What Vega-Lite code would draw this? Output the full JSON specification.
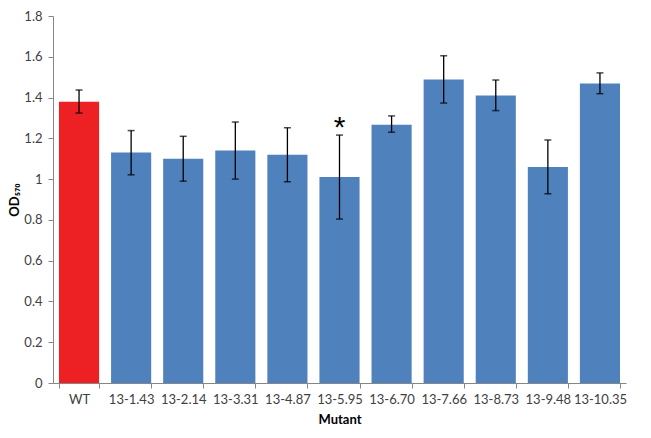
{
  "$schema": "https://vega.github.io/schema/vega-lite/v6.json",
  "autosize": {"type": "none"},
  "width": 573,
  "height": 367,
  "padding": {"left": 53, "top": 16, "right": 25, "bottom": 55},
  "background": "white",
  "config": {"view": {"stroke": null}, "font": "Lato"},
  "data": {"values": [
    {"mutant": "WT", "group": "control", "od": 1.38, "lo": 1.324, "hi": 1.437, "sig": ""},
    {"mutant": "13-1.43", "group": "mutant", "od": 1.13, "lo": 1.021, "hi": 1.238, "sig": ""},
    {"mutant": "13-2.14", "group": "mutant", "od": 1.10, "lo": 0.99, "hi": 1.21, "sig": ""},
    {"mutant": "13-3.31", "group": "mutant", "od": 1.14, "lo": 1.0, "hi": 1.28, "sig": ""},
    {"mutant": "13-4.87", "group": "mutant", "od": 1.12, "lo": 0.987, "hi": 1.252, "sig": ""},
    {"mutant": "13-5.95", "group": "mutant", "od": 1.01, "lo": 0.804, "hi": 1.216, "sig": "*"},
    {"mutant": "13-6.70", "group": "mutant", "od": 1.267, "lo": 1.23, "hi": 1.31, "sig": ""},
    {"mutant": "13-7.66", "group": "mutant", "od": 1.488, "lo": 1.373, "hi": 1.605, "sig": ""},
    {"mutant": "13-8.73", "group": "mutant", "od": 1.41, "lo": 1.336, "hi": 1.486, "sig": ""},
    {"mutant": "13-9.48", "group": "mutant", "od": 1.06, "lo": 0.928, "hi": 1.192, "sig": ""},
    {"mutant": "13-10.35", "group": "mutant", "od": 1.469, "lo": 1.419, "hi": 1.521, "sig": ""}
  ]},
  "encoding": {
    "x": {
      "field": "mutant", "type": "nominal", "sort": null,
      "scale": {"paddingInner": 0.23, "paddingOuter": 0.115},
      "axis": {
        "title": "Mutant", "labelAngle": 0, "tickBand": "extent",
        "labelFont": "Lato", "labelFontSize": 13, "labelColor": "#404040", "labelPadding": 5,
        "titleFont": "Lato", "titleFontSize": 13, "titleFontWeight": "bold", "titleColor": "#000000", "titlePadding": 7,
        "domainColor": "#868686", "tickColor": "#868686", "tickSize": 5, "grid": false
      }
    }
  },
  "layer": [
    {
      "mark": {"type": "bar"},
      "encoding": {
        "y": {
          "field": "od", "type": "quantitative",
          "scale": {"domain": [0, 1.8], "nice": false},
          "axis": {
            "title": "OD₅₇₀", "values": [0, 0.2, 0.4, 0.6, 0.8, 1, 1.2, 1.4, 1.6, 1.8], "format": "~g",
            "labelFont": "Lato", "labelFontSize": 13, "labelColor": "#404040", "labelPadding": 6,
            "titleFont": "Lato", "titleFontSize": 13, "titleFontWeight": "bold", "titleColor": "#000000", "titlePadding": 2,
            "domainColor": "#868686", "tickColor": "#868686", "tickSize": 5, "grid": false
          }
        },
        "color": {"field": "group", "type": "nominal", "scale": {"domain": ["control", "mutant"], "range": ["#ED2024", "#4F81BD"]}, "legend": null}
      }
    },
    {
      "mark": {"type": "rule", "color": "#000000", "strokeWidth": 1.3},
      "encoding": {"y": {"field": "lo", "type": "quantitative"}, "y2": {"field": "hi"}}
    },
    {
      "mark": {"type": "tick", "orient": "horizontal", "color": "#000000", "size": 7, "thickness": 1.5},
      "encoding": {"y": {"field": "lo", "type": "quantitative"}}
    },
    {
      "mark": {"type": "tick", "orient": "horizontal", "color": "#000000", "size": 7, "thickness": 1.5},
      "encoding": {"y": {"field": "hi", "type": "quantitative"}}
    },
    {
      "transform": [{"filter": "datum.sig != ''"}],
      "mark": {"type": "text", "font": "Liberation Sans", "fontSize": 30, "color": "#000000", "dy": 2, "baseline": "alphabetic"},
      "encoding": {"y": {"field": "hi", "type": "quantitative"}, "text": {"field": "sig"}}
    }
  ]
}
